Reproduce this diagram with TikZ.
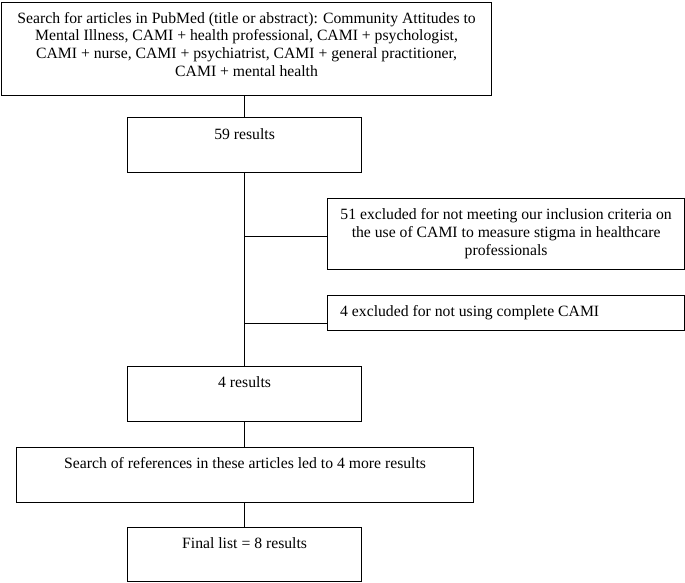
\documentclass[tikz,border=0pt]{standalone}
\usepackage{fontspec}
\setmainfont{Liberation Serif}
\begin{document}
\begin{tikzpicture}[x=1pt,y=-1pt,
  box/.style={draw, line width=1.2pt, inner sep=0pt, anchor=north west},
  txt/.style={inner sep=0pt, font=\fontsize{15.7}{17.8}\selectfont, align=center, anchor=base},
  link/.style={line width=1.2pt}]
\useasboundingbox (0,0) rectangle (685,582);
% boxes
\node[box, minimum width=490pt, minimum height=93pt] (b1) at (1,2) {};
\node[box, minimum width=234pt, minimum height=55pt] (b2) at (127,117) {};
\node[box, minimum width=357pt, minimum height=71pt] (b3) at (327,198) {};
\node[box, minimum width=357pt, minimum height=35pt] (b4) at (327,295) {};
\node[box, minimum width=234pt, minimum height=55pt] (b5) at (127,366) {};
\node[box, minimum width=457pt, minimum height=55pt] (b6) at (16,447) {};
\node[box, minimum width=234pt, minimum height=54pt] (b7) at (127,527) {};
% texts (anchor base = baseline of the last line)
\node[txt] (t1) at ([yshift=-74.4pt]b1.north) {Search for articles in PubMed (title or abstract): Community Attitudes to\\Mental Illness, CAMI + health professional, CAMI + psychologist,\\CAMI + nurse, CAMI + psychiatrist, CAMI + general practitioner,\\CAMI + mental health};
\node[txt] (t2) at ([yshift=-22pt]b2.north) {59 results};
\node[txt] (t3) at ([yshift=-57pt]b3.north) {51 excluded for not meeting our inclusion criteria on\\the use of CAMI to measure stigma in healthcare\\professionals};
\node[txt, anchor=base west] (t4) at ([xshift=13pt,yshift=-21pt]b4.north west) {4 excluded for not using complete CAMI};
\node[txt] (t5) at ([yshift=-21pt]b5.north) {4 results};
\node[txt] (t6) at ([yshift=-21pt]b6.north) {Search of references in these articles led to 4 more results};
\node[txt] (t7) at ([yshift=-21pt]b7.north) {Final list = 8 results};
% connectors
\draw[link] (b2.north) -- (b2.north |- b1.south);
\draw[link] (b2.south) -- (b5.north);
\draw[link] ([yshift=-2pt]b3.west) -- ([yshift=-2pt]b3.west -| b2.south);
\draw[link] ([yshift=-10.5pt]b4.west) -- ([yshift=-10.5pt]b4.west -| b2.south);
\draw[link] (b5.south) -- (b5.south |- b6.north);
\draw[link] (b7.north) -- (b7.north |- b6.south);
\end{tikzpicture}
\end{document}
